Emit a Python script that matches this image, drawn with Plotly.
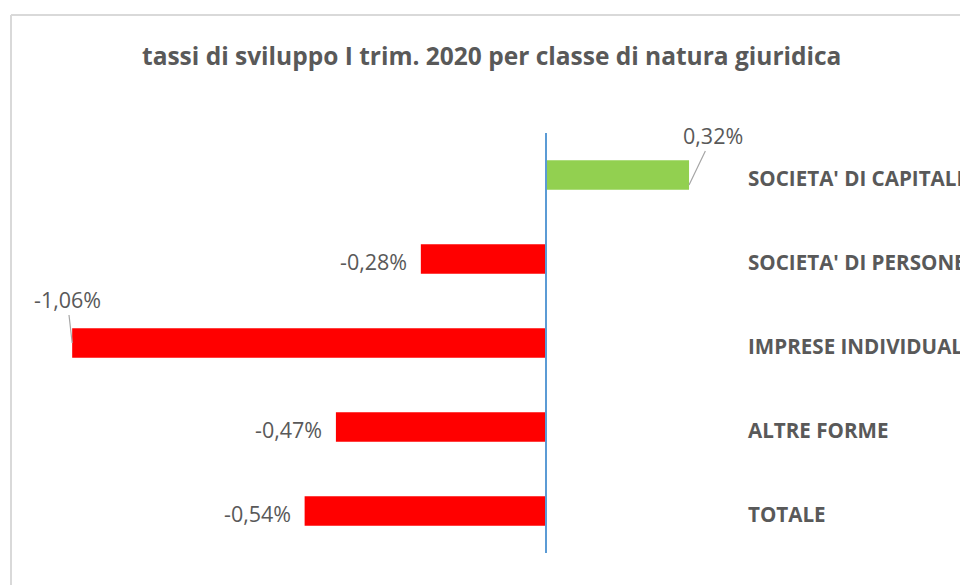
import plotly.graph_objects as go

categories = ["SOCIETA' DI CAPITALE", "SOCIETA' DI PERSONE", "IMPRESE INDIVIDUALI", "ALTRE FORME", "TOTALE"]
values = [0.32, -0.28, -1.06, -0.47, -0.54]
labels = ["0,32%", "-0,28%", "-1,06%", "-0,47%", "-0,54%"]
title_text = "tassi di sviluppo I trim. 2020 per classe di natura giuridica"

W, H = 960, 585
x0_px, px_per_unit = 546, 447
y0_px, px_per_cat = 175, 84

xr = [(0 - x0_px) / px_per_unit, (W - x0_px) / px_per_unit]
yr = [(H - y0_px) / px_per_cat, (0 - y0_px) / px_per_cat]

colors = ["#92D050" if v >= 0 else "#FF0000" for v in values]
idx = list(range(len(categories)))

fig = go.Figure()
fig.add_trace(go.Bar(
    x=values, y=idx, orientation="h",
    marker=dict(color=colors, line=dict(width=0)),
    width=0.35, hoverinfo="skip",
))

grey = "#595959"
ann = []
# data labels
for i, (v, lab) in enumerate(zip(values, labels)):
    if lab == "0,32%":
        ann.append(dict(x=v, y=i, xref="x", yref="y", text=lab, showarrow=True,
                        arrowhead=0, arrowwidth=1.2, arrowcolor="#A6A6A6",
                        ax=24, ay=-50, yshift=-10, standoff=0,
                        font=dict(family="Open Sans", size=21.5, color=grey)))
    elif lab == "-1,06%":
        ann.append(dict(x=v, y=i, xref="x", yref="y", text=lab, showarrow=True,
                        arrowhead=0, arrowwidth=1.2, arrowcolor="#A6A6A6",
                        ax=-5, ay=-44, standoff=0,
                        font=dict(family="Open Sans", size=21.5, color=grey)))
    else:
        ann.append(dict(x=v, y=i, xref="x", yref="y", text=lab, showarrow=False,
                        xanchor="right", xshift=-12, yshift=-2,
                        font=dict(family="Open Sans", size=21.5, color=grey)))
# category labels
for i, c in enumerate(categories):
    ann.append(dict(x=746 / W, y=i, xref="paper", yref="y", text="<b>" + c + "</b>",
                    showarrow=False, xanchor="left", yshift=-3,
                    font=dict(family="Open Sans", size=20.6, color=grey)))
# title
ann.append(dict(x=491 / W, y=1 - 55 / H, xref="paper", yref="paper", text="<b>" + title_text + "</b>",
                showarrow=False, xanchor="center", yanchor="middle",
                font=dict(family="Open Sans", size=24.5, color=grey)))

border = dict(color="#D9D9D9", width=2)
shapes = [
    dict(type="line", xref="x", yref="y", x0=0, x1=0, y0=-0.5, y1=len(categories) - 0.5,
         line=dict(color="#5B9BD5", width=2)),
    dict(type="line", xref="paper", yref="paper", x0=11 / W, x1=1, y0=1 - 15 / H, y1=1 - 15 / H, line=border),
    dict(type="line", xref="paper", yref="paper", x0=11 / W, x1=11 / W, y0=0, y1=1 - 15 / H, line=border),
]

fig.update_layout(
    width=W, height=H, margin=dict(l=0, r=0, t=0, b=0),
    paper_bgcolor="white", plot_bgcolor="white",
    showlegend=False, annotations=ann, shapes=shapes,
    xaxis=dict(range=xr, visible=False, fixedrange=True),
    yaxis=dict(range=yr, visible=False, fixedrange=True),
)
fig.write_html("out.html", config={"displayModeBar": False},
               post_script="document.body.style.margin='0';document.body.style.overflow='hidden';")
